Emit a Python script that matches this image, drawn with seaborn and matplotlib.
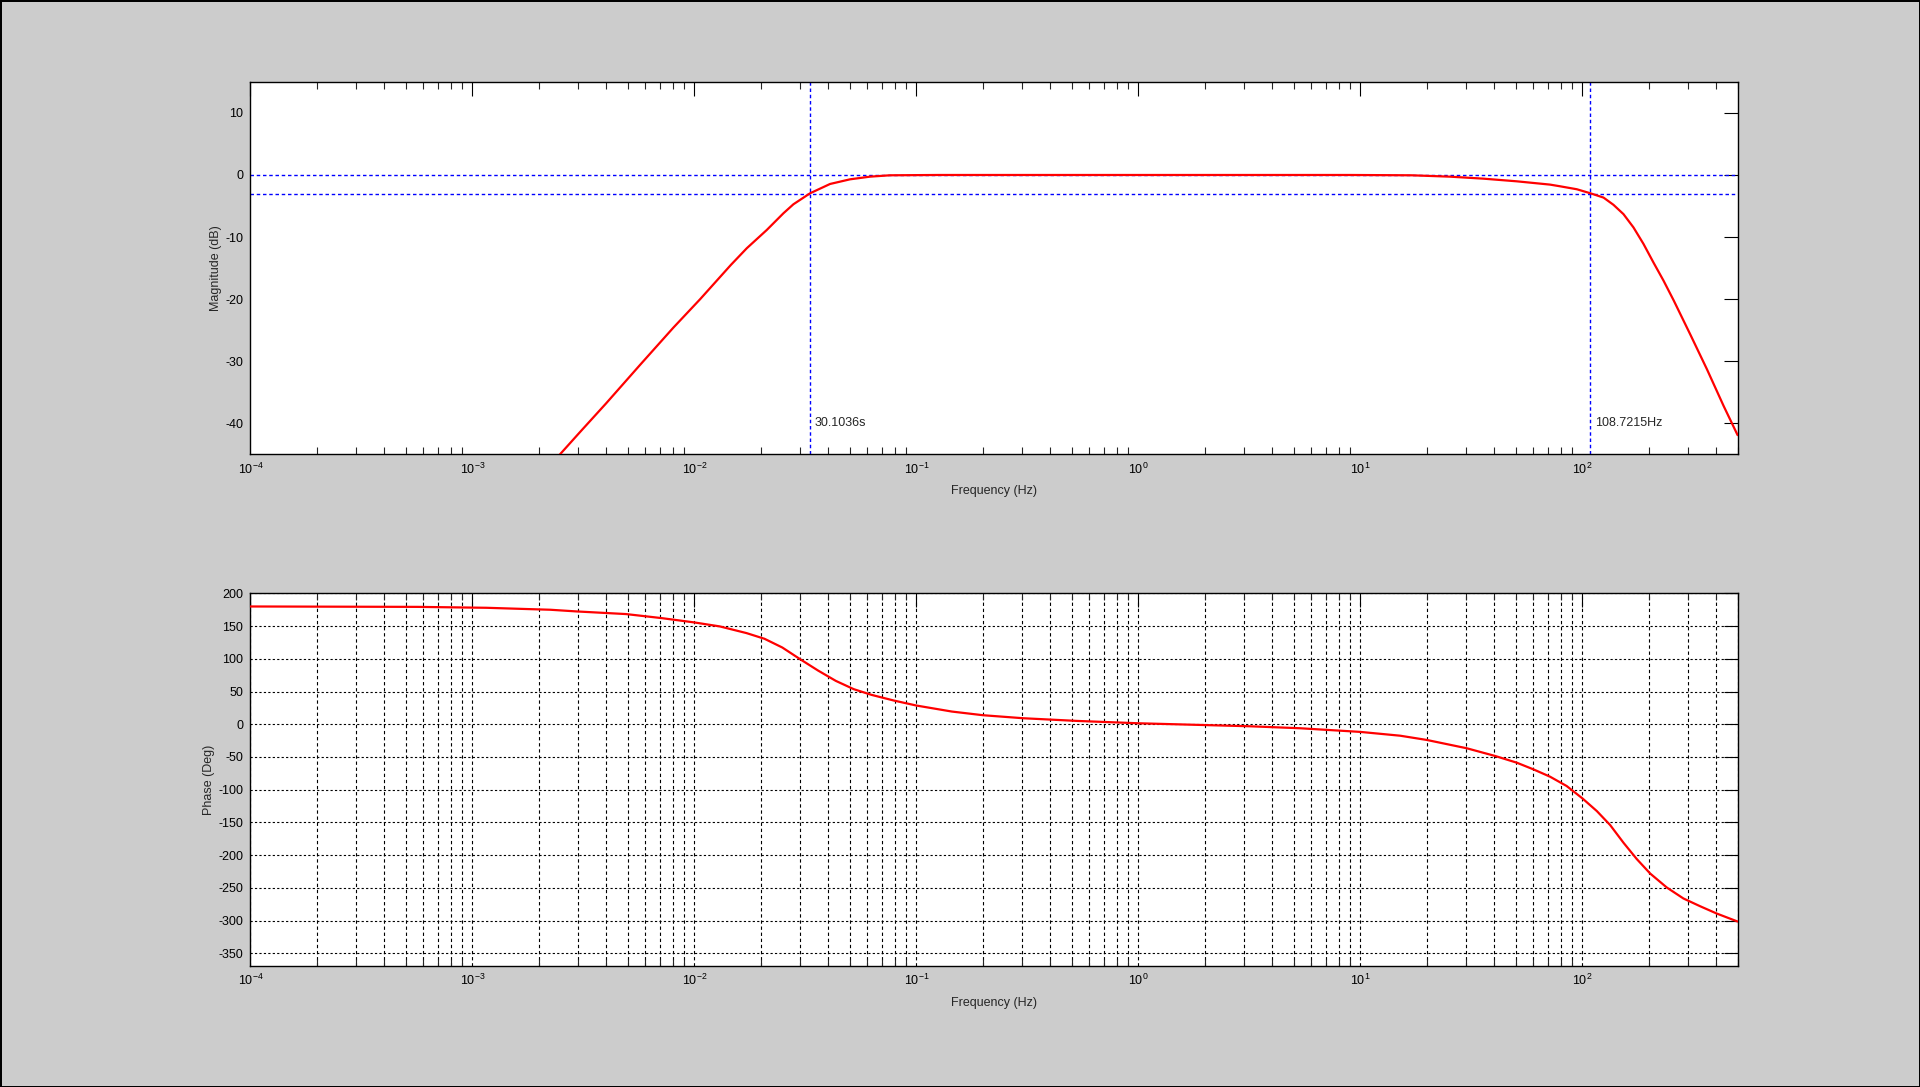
import numpy as np
import matplotlib
matplotlib.use("Agg")
import matplotlib.pyplot as plt
import matplotlib.ticker as mticker
import seaborn as sns

# Magnitude (log10 of Hz, dB)
mag_logf = [-2.608, -2.515, -2.398, -2.245, -2.095, -1.974, -1.836, -1.764,
            -1.674, -1.599, -1.554, -1.479, -1.389, -1.299, -1.209, -1.119,
            -0.90, -0.50, 0.0, 0.50, 0.952, 1.230, 1.403, 1.553, 1.704,
            1.854, 1.899, 1.975, 2.036, 2.095, 2.140, 2.185, 2.230, 2.275,
            2.320, 2.365, 2.411, 2.486, 2.561, 2.636, 2.699]
mag_db = [-45.1, -41.4, -36.8, -30.6, -24.6, -20.0, -14.5, -11.8,
          -8.86, -6.17, -4.72, -2.95, -1.45, -0.70, -0.27, -0.05,
          0.0, 0.0, 0.0, 0.0, 0.0, -0.05, -0.27, -0.59, -1.02,
          -1.55, -1.82, -2.30, -2.95, -3.64, -4.81, -6.31, -8.45, -11.1,
          -14.1, -17.0, -20.2, -25.7, -31.3, -37.2, -41.9]

# Phase (log10 of Hz, degrees)
ph_logf = [-4.0, -3.246, -2.936, -2.747, -2.649, -2.529, -2.308, -2.147,
           -2.0, -1.885, -1.765, -1.684, -1.604, -1.524, -1.443, -1.363,
           -1.282, -1.202, -1.101, -1.0, -0.840, -0.700, -0.519, -0.277,
           0.0, 0.503, 0.728, 1.0, 1.179, 1.299, 1.479, 1.607, 1.704,
           1.779, 1.854, 1.929, 2.0, 2.065, 2.125, 2.185, 2.245, 2.305,
           2.380, 2.455, 2.530, 2.605, 2.699]
ph_deg = [180.0, 179.4, 178.0, 176.0, 175.0, 172.4, 168.4, 162.2,
          155.6, 149.5, 139.3, 130.6, 117.3, 99.5, 82.1, 66.3,
          53.6, 44.9, 36.2, 28.6, 19.4, 13.8, 9.2, 5.1,
          1.5, -3.1, -6.1, -11.7, -17.5, -24.0, -36.7, -48.5, -58.7,
          -68.9, -80.1, -94.4, -113.3, -132.7, -154.1, -181.1, -206.1, -228.1,
          -249.5, -266.3, -278.1, -289.3, -301.5]

low_period_s = 30.1036
high_cut_hz = 108.7215
mag_ticks = [10, 0, -10, -20, -30, -40]
phase_ticks = list(range(200, -351, -50))

sns.set_theme(style="white")
plt.rcParams["font.family"] = ["Liberation Sans", "DejaVu Sans"]
plt.rcParams["mathtext.fontset"] = "custom"
plt.rcParams["mathtext.rm"] = "Liberation Sans"
plt.rcParams["mathtext.it"] = "Liberation Sans"
plt.rcParams["mathtext.default"] = "regular"
plt.rcParams["axes.unicode_minus"] = False

fig = plt.figure(figsize=(19.2, 10.87), dpi=100, facecolor="#cccccc",
                 edgecolor="black", linewidth=2)
ax1 = fig.add_axes([0.1304, 0.5820, 0.7746, 0.3427])
ax2 = fig.add_axes([0.1304, 0.1110, 0.7746, 0.3431])

f_mag = np.power(10.0, mag_logf)
f_ph = np.power(10.0, ph_logf)
f_low = 1.0 / low_period_s

dot = (0, (2.5, 2.0))

# magnitude
ax1.axhline(0, color="blue", lw=1, ls=dot, zorder=1)
ax1.axhline(-3, color="blue", lw=1, ls=dot, zorder=1)
ax1.axvline(f_low, color="blue", lw=1, ls=dot, zorder=1)
ax1.axvline(high_cut_hz, color="blue", lw=1, ls=dot, zorder=1)
sns.lineplot(x=f_mag, y=mag_db, ax=ax1, color="red", linewidth=1.6, sort=False, zorder=3)
ax1.annotate(f"{low_period_s:.4f}s", (f_low, -40), xytext=(3, 0),
             textcoords="offset points", va="center", ha="left", fontsize=9)
ax1.annotate(f"{high_cut_hz:.4f}Hz", (high_cut_hz, -40), xytext=(3, 0),
             textcoords="offset points", va="center", ha="left", fontsize=9)
ax1.set_ylim(-45, 15)
ax1.set_yticks(mag_ticks)
ax1.set_ylabel("Magnitude (dB)", fontsize=9)

# phase
sns.lineplot(x=f_ph, y=ph_deg, ax=ax2, color="red", linewidth=1.6, sort=False, zorder=3)
ax2.set_ylim(-370, 200)
ax2.set_yticks(phase_ticks)
ax2.set_ylabel("Phase (Deg)", fontsize=9)
ax2.grid(True, which="both", axis="x", color="black", lw=0.8, ls=(0, (3, 2.5)))
ax2.grid(True, which="major", axis="y", color="black", lw=0.8, ls=(0, (2, 2)))

for ax in (ax1, ax2):
    ax.set_facecolor("white")
    ax.set_xscale("log")
    ax.set_xlim(1e-4, 500)
    ax.xaxis.set_major_locator(mticker.LogLocator(base=10, numticks=20))
    ax.xaxis.set_minor_locator(mticker.LogLocator(base=10, subs=np.arange(2, 10), numticks=20))
    ax.xaxis.set_minor_formatter(mticker.NullFormatter())
    ax.tick_params(which="major", direction="in", length=10, width=0.8,
                   top=True, right=True, labelsize=9, pad=5, colors="black")
    ax.tick_params(which="minor", direction="in", length=5, width=0.8,
                   top=True, bottom=True, left=False, right=False)
    ax.set_xlabel("Frequency (Hz)", fontsize=9)
    ax.xaxis.set_label_coords(0.5, -0.082)
    for s in ax.spines.values():
        s.set_color("black")
        s.set_linewidth(1.0)
    ax.set_axisbelow(True)

ax1.yaxis.set_label_coords(-0.019, 0.5)
ax2.yaxis.set_label_coords(-0.024, 0.5)

fig.savefig("out.png", dpi=100, facecolor=fig.get_facecolor(), edgecolor="black")
